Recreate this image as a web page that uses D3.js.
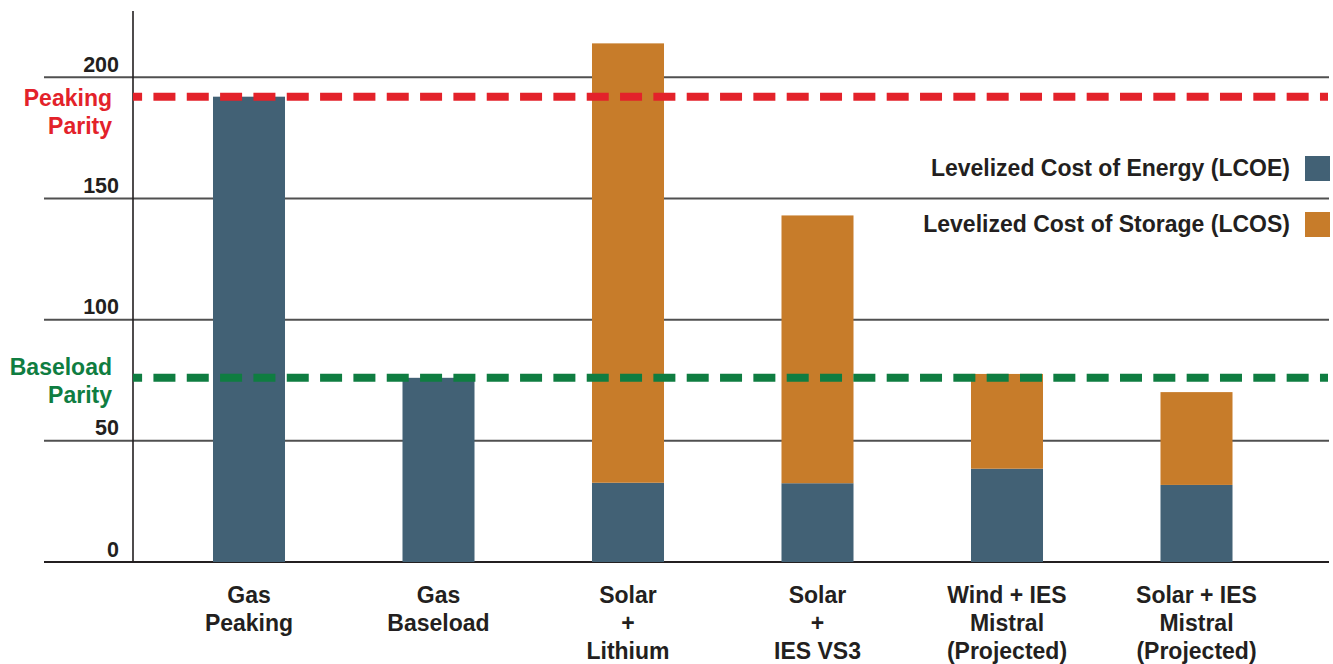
<!DOCTYPE html>
<html><head><meta charset="utf-8">
<script src="https://cdn.jsdelivr.net/npm/d3@7"></script>
<style>
html,body{margin:0;padding:0;background:#fff;}
svg{display:block;font-family:"Liberation Sans",Arial,Helvetica,sans-serif;font-weight:bold;}
</style></head>
<body>
<svg id="chart" width="1333" height="664"></svg>
<script>
// ---- data ----
const categories = [
  ["Gas","Peaking"],
  ["Gas","Baseload"],
  ["Solar","+","Lithium"],
  ["Solar","+","IES VS3"],
  ["Wind + IES","Mistral","(Projected)"],
  ["Solar + IES","Mistral","(Projected)"]
];
const lcoe = [192, 76, 32.7, 32.5, 38.5, 31.8];
const lcos = [0, 0, 181.3, 110.5, 39.1, 38.3];
const seriesNames = ["Levelized Cost of Energy (LCOE)", "Levelized Cost of Storage (LCOS)"];
const seriesColors = ["#426175", "#c77c2a"];
const yTicks = [0, 50, 100, 150, 200];
const parityValues = [192, 76];
const parityLabels = [["Peaking","Parity"],["Baseload","Parity"]];
const parityColors = ["#e3222a", "#0f7d41"];

// ---- layout ----
const svg = d3.select("#chart");
const textColor = "#231f20";
const axisX = 133;
const y = d3.scaleLinear().domain([0, 200]).range([562, 77.3]);
const x = d3.scaleBand().domain(d3.range(categories.length))
  .range([154.25, 1291.25]).paddingInner(0.62).paddingOuter(0.31);

// gridlines
svg.append("g").selectAll("line").data(yTicks).join("line")
  .attr("x1", 44).attr("x2", 1329)
  .attr("y1", d => y(d)).attr("y2", d => y(d))
  .attr("stroke", d => d === 0 ? "#231f20" : "#505050")
  .attr("stroke-width", 2);

// y tick labels via axis
const yAxis = d3.axisLeft(y).tickValues(yTicks).tickSize(0).tickPadding(14);
const ag = svg.append("g").attr("transform", `translate(${axisX},0)`).call(yAxis);
ag.select(".domain").remove();
ag.selectAll("text")
  .attr("dy", -6)
  .attr("fill", textColor)
  .style("font-size", "21.5px")
  .style("font-weight", "bold")
  .style("font-family", "'Liberation Sans',Arial,sans-serif");

// stacked bars
const rows = categories.map((c, i) => ({i, LCOE: lcoe[i], LCOS: lcos[i]}));
const stack = d3.stack().keys(["LCOE", "LCOS"])(rows);
svg.append("g").selectAll("g").data(stack).join("g")
  .attr("fill", (d, k) => seriesColors[k])
  .selectAll("rect").data(d => d).join("rect")
  .attr("x", d => x(d.data.i))
  .attr("width", x.bandwidth())
  .attr("y", d => y(d[1]))
  .attr("height", d => Math.max(0, y(d[0]) - y(d[1])));

// vertical axis line
svg.append("line").attr("x1", axisX).attr("x2", axisX)
  .attr("y1", 11).attr("y2", 563)
  .attr("stroke", "#231f20").attr("stroke-width", 1.6);

// parity dashed lines (on top of bars)
svg.append("g").selectAll("line").data(parityValues).join("line")
  .attr("x1", axisX).attr("x2", 1328)
  .attr("y1", d => y(d)).attr("y2", d => y(d))
  .attr("stroke", (d, i) => parityColors[i])
  .attr("stroke-width", 8)
  .attr("stroke-dasharray", "22,11.33")
  .attr("stroke-dashoffset", 12.9);

// parity labels
parityLabels.forEach((lines, i) => {
  const base = i === 0 ? 106 : 375;
  const t = svg.append("text").attr("text-anchor", "end")
    .attr("fill", parityColors[i]).style("font-size", "23px");
  lines.forEach((s, j) => t.append("tspan").attr("x", 112).attr("y", base + j * 28).text(s));
});

// category labels
const cg = svg.append("g").selectAll("text").data(categories).join("text")
  .attr("text-anchor", "middle").attr("fill", textColor).style("font-size", "23px");
cg.each(function(lines, i) {
  const t = d3.select(this);
  lines.forEach((s, j) => t.append("tspan")
    .attr("x", x(i) + x.bandwidth() / 2).attr("y", 602.5 + j * 28).text(s));
});

// legend
const legendY = [176, 232];
seriesNames.forEach((name, k) => {
  svg.append("text").attr("x", 1290).attr("y", legendY[k])
    .attr("text-anchor", "end").attr("fill", textColor)
    .style("font-size", "23px").text(name);
  svg.append("rect").attr("x", 1305).attr("y", legendY[k] - 20)
    .attr("width", 25).attr("height", 25).attr("fill", seriesColors[k]);
});
</script>
</body></html>
